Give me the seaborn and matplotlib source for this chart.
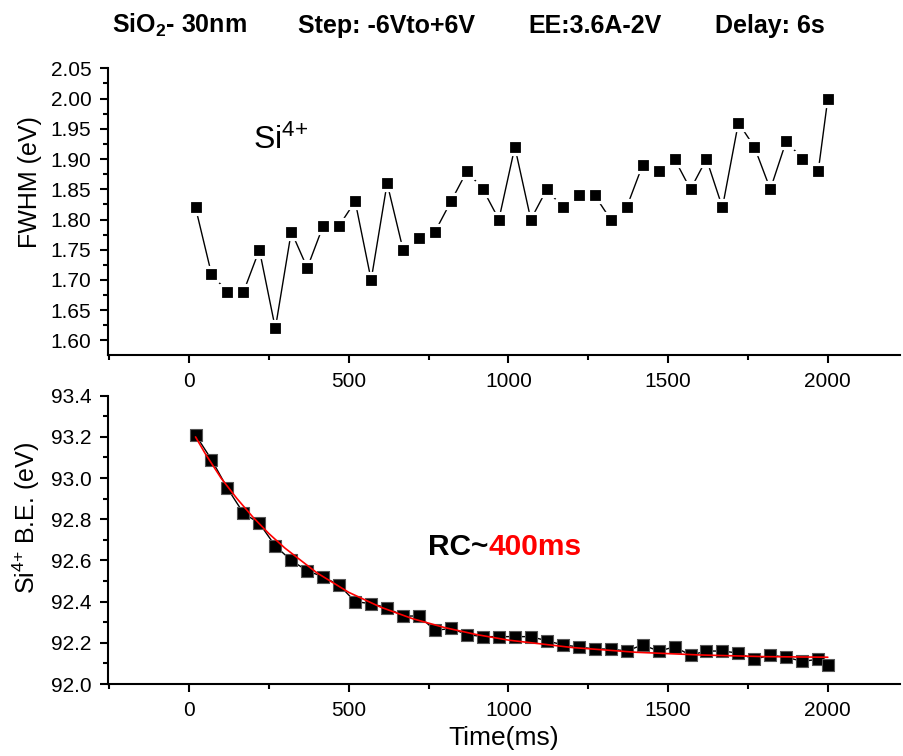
import numpy as np
import pandas as pd
import matplotlib
matplotlib.use("Agg")
import matplotlib.pyplot as plt
import seaborn as sns
from matplotlib.ticker import MultipleLocator, FormatStrFormatter

# ---------------- data ----------------
time_ms = [20, 70, 120, 170, 220, 270, 320, 370, 420, 470,
           520, 570, 620, 670, 720, 770, 820, 870, 920, 970,
           1020, 1070, 1120, 1170, 1220, 1270, 1320, 1370, 1420, 1470,
           1520, 1570, 1620, 1670, 1720, 1770, 1820, 1870, 1920, 1970, 2000]

fwhm = [1.82, 1.71, 1.68, 1.68, 1.75, 1.62, 1.78, 1.72, 1.79, 1.79,
        1.83, 1.70, 1.86, 1.75, 1.77, 1.78, 1.83, 1.88, 1.85, 1.80,
        1.92, 1.80, 1.85, 1.82, 1.84, 1.84, 1.80, 1.82, 1.89, 1.88,
        1.90, 1.85, 1.90, 1.82, 1.96, 1.92, 1.85, 1.93, 1.90, 1.88, 2.00]

be = [93.21, 93.09, 92.95, 92.83, 92.78, 92.67, 92.60, 92.55, 92.52, 92.48,
      92.40, 92.39, 92.37, 92.33, 92.33, 92.26, 92.27, 92.24, 92.23, 92.23,
      92.23, 92.23, 92.21, 92.19, 92.18, 92.17, 92.17, 92.16, 92.19, 92.16,
      92.18, 92.14, 92.16, 92.16, 92.15, 92.12, 92.14, 92.13, 92.11, 92.12, 92.09]

# red fit curve
fit_time = [20, 50, 100, 150, 200, 250, 300, 400, 500, 600, 700, 800, 900,
            1000, 1200, 1400, 1600, 1800, 2000]
fit_be = [93.20, 93.12, 93.00, 92.90, 92.81, 92.73, 92.66, 92.54, 92.445, 92.373,
          92.317, 92.274, 92.24, 92.213, 92.177, 92.154, 92.141, 92.133, 92.13]

x_ticks = [0, 500, 1000, 1500, 2000]
title_parts = ["SiO$_\\mathbf{2}$- 30nm", "Step: -6Vto+6V", "EE:3.6A-2V", "Delay: 6s"]

# ---------------- style ----------------
sns.set_theme(style="ticks")
plt.rcParams["font.family"] = ["Liberation Sans", "DejaVu Sans"]
plt.rcParams["mathtext.fontset"] = "custom"
plt.rcParams["mathtext.rm"] = "Liberation Sans"
plt.rcParams["mathtext.it"] = "Liberation Sans:italic"
plt.rcParams["mathtext.bf"] = "Liberation Sans:bold"
plt.rcParams["axes.linewidth"] = 1.5
plt.rcParams["axes.edgecolor"] = "black"
plt.rcParams["axes.labelcolor"] = "black"
plt.rcParams["text.color"] = "black"
plt.rcParams["xtick.color"] = "black"
plt.rcParams["ytick.color"] = "black"

W, H = 904, 756
fig = plt.figure(figsize=(W / 100, H / 100), dpi=100)

def frac_axes(x0, y0, x1, y1):
    return fig.add_axes([x0 / W, 1 - y1 / H, (x1 - x0) / W, (y1 - y0) / H])

ax1 = frac_axes(108, 68.3, 900, 355)
ax2 = frac_axes(108, 395.7, 900, 684)

df = pd.DataFrame({"t": time_ms, "fwhm": fwhm, "be": be})
dfit = pd.DataFrame({"t": fit_time, "be": fit_be})

# top panel
sns.lineplot(data=df, x="t", y="fwhm", ax=ax1, color="black", lw=1.0,
             sort=False, zorder=2)
sns.scatterplot(data=df, x="t", y="fwhm", ax=ax1, marker="s", s=92,
                color="black", edgecolor="white", linewidth=2.3, zorder=3)

# bottom panel
sns.lineplot(data=df, x="t", y="be", ax=ax2, color="black", lw=1.0,
             sort=False, zorder=2)
sns.scatterplot(data=df, x="t", y="be", ax=ax2, marker="s", s=72,
                color="black", edgecolor="#555555", linewidth=0.8, zorder=3)
sns.lineplot(data=dfit, x="t", y="be", ax=ax2, color="red", lw=1.2,
             sort=False, zorder=4)

for ax in (ax1, ax2):
    sns.despine(ax=ax)
    ax.set_xlim(-254, 2226)
    ax.set_xticks(x_ticks)
    ax.xaxis.set_minor_locator(MultipleLocator(250))
    ax.tick_params(which="major", direction="out", length=6, width=1.5,
                   labelsize=15, colors="black", pad=6)
    ax.tick_params(which="minor", direction="out", length=3.5, width=1.5,
                   colors="black")
    ax.set_xlabel("")
    ax.set_ylabel("")

ax1.set_ylim(1.576, 2.05)
ax1.yaxis.set_major_locator(MultipleLocator(0.05))
ax1.yaxis.set_minor_locator(MultipleLocator(0.025))
ax1.yaxis.set_major_formatter(FormatStrFormatter("%.2f"))

ax2.set_ylim(92.0, 93.4)
ax2.yaxis.set_major_locator(MultipleLocator(0.2))
ax2.yaxis.set_minor_locator(MultipleLocator(0.1))
ax2.yaxis.set_major_formatter(FormatStrFormatter("%.1f"))

ax1.set_ylabel("FWHM (eV)", fontsize=18)
ax1.yaxis.set_label_coords(-0.083, 0.602)
ax2.set_ylabel("Si$^{4{+}}$ B.E. (eV)", fontsize=18)
ax2.yaxis.set_label_coords(-0.083, 0.575)
ax2.set_xlabel("Time(ms)", fontsize=19)
ax2.xaxis.set_label_coords(0.5, -0.145)

# annotations
ax1.text(199, 1.917, "Si$^{4{+}}$", fontsize=23, ha="left", va="baseline")
t_rc = ax2.text(748, 92.627, "RC~", fontsize=21.5, fontweight="bold",
                ha="left", va="baseline", color="black")
ax2.annotate("400ms", xy=(1, 0), xycoords=t_rc, fontsize=21.5,
             fontweight="bold", ha="left", va="bottom", color="red")

# title pieces
for txt, xpx in zip(title_parts, [111.7, 298, 528, 715]):
    fig.text(xpx / W, 1 - 33.3 / H, txt, fontsize=18, fontweight="bold",
             ha="left", va="baseline")

fig.savefig("out.png", dpi=100)
